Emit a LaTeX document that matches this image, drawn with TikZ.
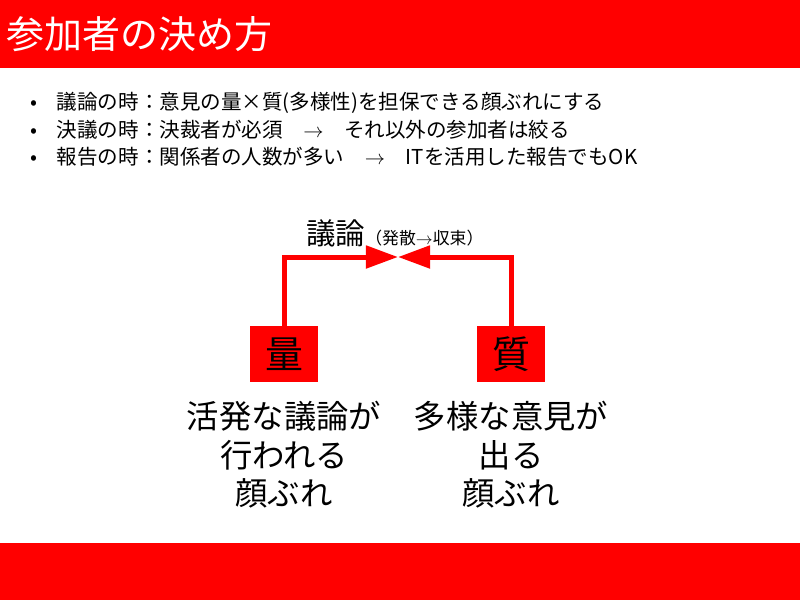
\documentclass[tikz,border=0pt]{standalone}
\usepackage{fontspec}
\setmainfont{Noto Sans CJK JP}
\usetikzlibrary{arrows.meta}
\tikzset{
  band/.style={fill=red,draw=none},
  qbox/.style={fill=red,minimum width=1.7cm,minimum height=1.4cm,inner sep=0pt,font=\fontsize{27}{29}\selectfont},
  bul/.style={anchor=west,font=\fontsize{14.6}{16}\selectfont,inner sep=0pt},
  blk/.style={align=center,font=\fontsize{23}{27.5}\selectfont},
  link/.style={red,line width=0.125cm,-{Triangle[length=0.8cm,width=0.55cm]}}
}
\begin{document}
\begin{tikzpicture}[x=0.025cm,y=-0.025cm]
\useasboundingbox (0,0) rectangle (800,600);
\fill [white] (0,0) rectangle (800,600);
%bands
\fill [band] (0,0) rectangle (800,68);
\fill [band] (0,543) rectangle (800,600);
\node [anchor=west,white,font=\fontsize{27}{30}\selectfont,inner sep=0pt] (title) at (6,34) {参加者の決め方};
%bullets
\node [bul] (b1) at (30,103) {•\hspace{14pt}議論の時：意見の量×質(多様性)を担保できる顔ぶれにする};
\node [bul] (b2) at (30,130) {•\hspace{14pt}決議の時：決裁者が必須\quad$\rightarrow$\quad それ以外の参加者は絞る};
\node [bul] (b3) at (30,157) {•\hspace{14pt}報告の時：関係者の人数が多い\quad$\rightarrow$\quad ITを活用した報告でもOK};
%boxes
\node [qbox] (ryo) at (284,354) {量};
\node [qbox] (shitsu) at (511,354) {質};
\coordinate (meet) at (398,257);
\draw [link] (ryo.north) |- (meet);
\draw [link] (shitsu.north) |- (meet);
\node [anchor=south west,inner sep=0pt] (giron) at (306,247) {\fontsize{21}{23}\selectfont 議論\fontsize{12}{14}\selectfont（発散$\rightarrow$収束）};
%texts
\node [blk,anchor=north] (t1) at (284,396) {活発な議論が\\行われる\\顔ぶれ};
\node [blk,anchor=north] (t2) at (511,396) {多様な意見が\\出る\\顔ぶれ};
\end{tikzpicture}
\end{document}
